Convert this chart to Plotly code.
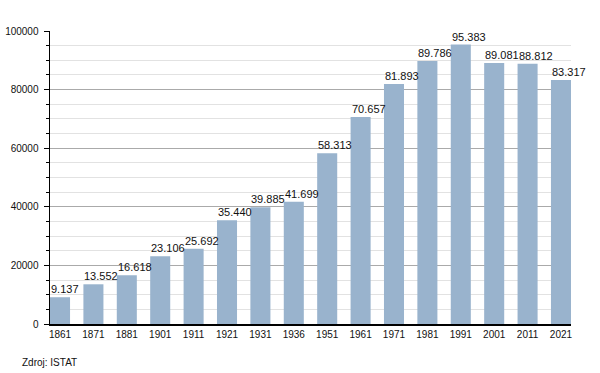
import plotly.graph_objects as go

years = ["1861", "1871", "1881", "1901", "1911", "1921", "1931", "1936",
         "1951", "1961", "1971", "1981", "1991", "2001", "2011", "2021"]
population = [9137, 13552, 16618, 23106, 25692, 35440, 39885, 41699,
              58313, 70657, 81893, 89786, 95383, 89081, 88812, 83317]
labels = ["9.137", "13.552", "16.618", "23.106", "25.692", "35.440", "39.885", "41.699",
          "58.313", "70.657", "81.893", "89.786", "95.383", "89.081", "88.812", "83.317"]

W = 0.6
pos = list(range(len(years)))
FONT = "Liberation Sans, Arial, Helvetica, sans-serif"

fig = go.Figure()
fig.add_trace(go.Bar(x=pos, y=population, width=W, marker_color="#99b3cd",
                     marker_line_width=0, hoverinfo="skip"))

annotations = []
for p, v, t in zip(pos, population, labels):
    annotations.append(dict(x=p - W / 2, y=v, xref="x", yref="y", text=t,
                            showarrow=False, xanchor="left", yanchor="bottom",
                            font=dict(family=FONT, size=11, color="#111"),
                            borderpad=0, yshift=1))
annotations.append(dict(x=-0.0576, y=-0.1297, xref="paper", yref="paper",
                        text="Zdroj: ISTAT", showarrow=False, xanchor="left",
                        yanchor="middle", font=dict(family=FONT, size=10, color="#111")))

fig.update_layout(
    width=600, height=373,
    margin=dict(l=50, r=29, t=31, b=49, autoexpand=False),
    paper_bgcolor="white", plot_bgcolor="white",
    showlegend=False,
    annotations=annotations,
    font=dict(family=FONT, size=10, color="#111"),
    xaxis=dict(range=[-W / 2, len(years) - 1 + W / 2], tickvals=pos, ticktext=years,
               showline=True, linecolor="black", linewidth=1.5, ticks="",
               showgrid=False, zeroline=False, fixedrange=True, automargin=False,
               tickfont=dict(family=FONT, size=10, color="#111")),
    yaxis=dict(range=[0, 100000], dtick=20000, tick0=0, showline=True,
               linecolor="black", linewidth=1.5, ticks="outside", ticklen=5,
               tickcolor="black", tickwidth=1, showgrid=True, gridcolor="#aaaaaa",
               gridwidth=1, zeroline=False, tickformat="d", automargin=False,
               ticklabelstandoff=3,
               tickfont=dict(family=FONT, size=10, color="#111")),
)
fig.update_yaxes(minor=dict(dtick=5000, showgrid=True, gridcolor="#e2e2e2",
                            ticks="outside", ticklen=3, tickcolor="black"))

fig.write_html("out.html",
               config={"displayModeBar": False, "staticPlot": True},
               post_script="document.body.style.margin='0';document.body.style.overflow='hidden';")
